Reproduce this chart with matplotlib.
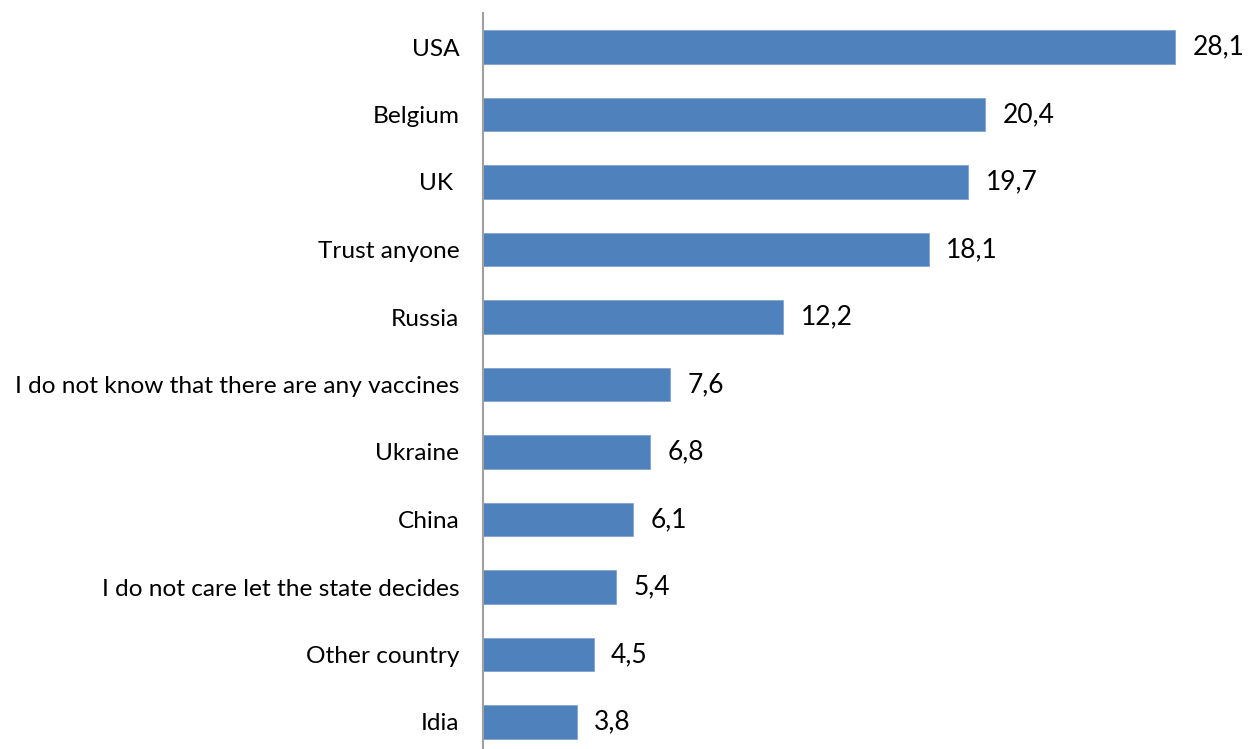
import matplotlib
matplotlib.use('Agg')
from matplotlib import pyplot as plt

# categories from top to bottom
CATEGORIES = [
    'USA',
    'Belgium',
    'UK ',
    'Trust anyone',
    'Russia',
    'I do not know that there are any vaccines',
    'Ukraine',
    'China',
    'I do not care let the state decides',
    'Other country',
    'Idia',
]
VALUES = [28.1, 20.4, 19.7, 18.1, 12.2, 7.6, 6.8, 6.1, 5.4, 4.5, 3.8]

BAR_COLOR = '#4F81BD'

plt.rcParams['font.family'] = ['Lato', 'DejaVu Sans']

fig = plt.figure(figsize=(12.48, 7.49), dpi=100)
W, H = 1248, 749
# axes in pixels: left 483, top 13.25, band 67.5 px per category
left, top = 483, 13.25
width = 30 * 24.63
height = 67.5 * len(CATEGORIES)
ax = fig.add_axes([left / W, 1 - (top + height) / H, width / W, height / H])

pos = list(range(len(CATEGORIES)))
ax.barh(pos, VALUES, height=0.5, color=BAR_COLOR, edgecolor='#7FA3D0',
        linewidth=0.6)
ax.set_ylim(len(CATEGORIES) - 0.5, -0.5)
ax.set_xlim(0, 30)

ax.set_yticks(pos)
ax.set_yticklabels(CATEGORIES, fontsize=17.6, color='black')
ax.tick_params(axis='y', length=0, pad=17)
ax.set_xticks([])

for p, v in zip(pos, VALUES):
    ax.text(v + 0.7, p, ('%.1f' % v).replace('.', ','), va='center',
            ha='left', fontsize=19, color='black')

for side in ['top', 'right', 'bottom']:
    ax.spines[side].set_visible(False)
ax.spines['left'].set_color('#A0A0A0')
ax.spines['left'].set_linewidth(1.5)

fig.savefig('out.png', dpi=100)
